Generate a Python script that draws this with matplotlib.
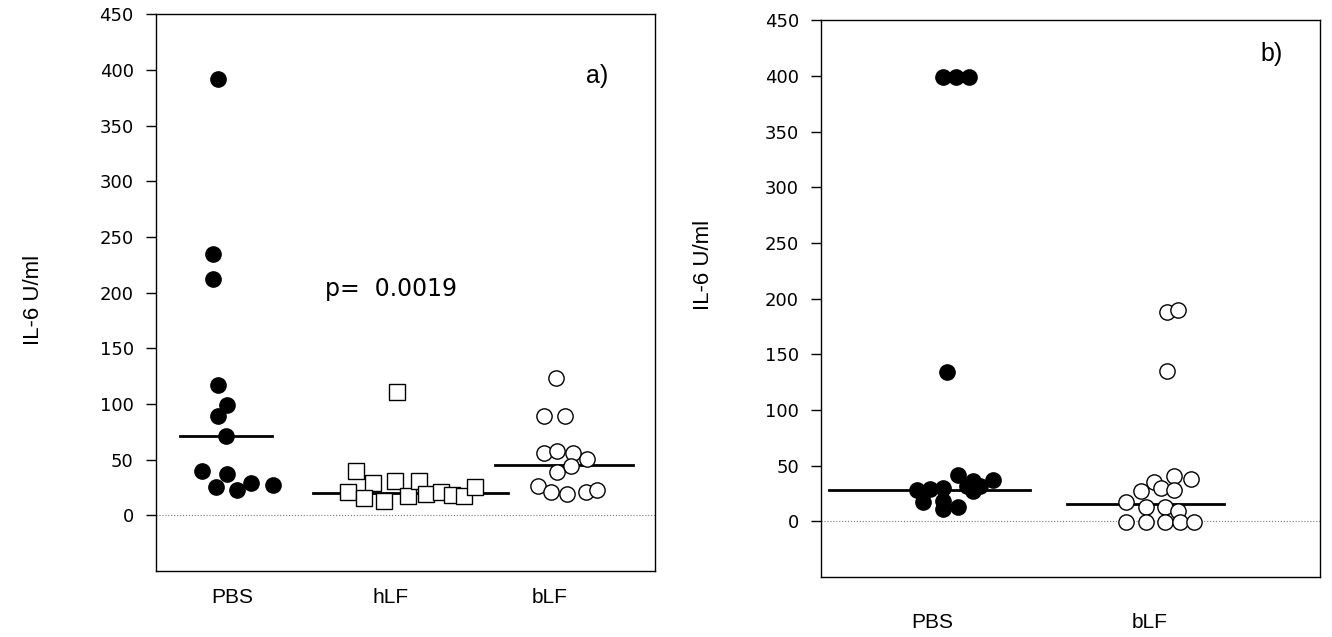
import numpy as np
import matplotlib.pyplot as plt

plt.rcParams['font.family'] = ['Liberation Sans', 'DejaVu Sans']

# ---- panel a) ----
cats_a = ['PBS', 'hLF', 'bLF']
pbs_a = [392, 235, 212, 117, 99, 89, 71, 40, 37, 25, 23, 29, 27]
pbs_a_x = [0.91, 0.88, 0.88, 0.91, 0.97, 0.91, 0.96, 0.81, 0.97, 0.90, 1.03, 1.12, 1.26]
hlf_a = [111, 40, 21, 29, 15.5, 13, 31, 17, 31, 19, 21, 18.5, 17, 25]
hlf_a_x = [2.04, 1.78, 1.73, 1.89, 1.83, 1.96, 2.03, 2.11, 2.18, 2.22, 2.32, 2.39, 2.46, 2.53]
blf_a = [123, 89, 89, 56, 58, 56, 51, 44, 39, 26, 21, 19, 21, 23]
blf_a_x = [3.04, 2.97, 3.10, 2.97, 3.05, 3.15, 3.24, 3.14, 3.05, 2.93, 3.01, 3.11, 3.23, 3.30]
medians_a = [71, 20, 45]
median_span_a = [(0.67, 1.25), (1.51, 2.74), (2.66, 3.53)]

# ---- panel b) ----
cats_b = ['PBS', 'bLF']
pbs_b = [399, 399, 399, 134, 28, 17, 29, 30, 18, 11, 13, 42, 32, 36, 27, 32, 37]
pbs_b_x = [1.05, 1.11, 1.17, 1.07, 0.93, 0.96, 0.99, 1.05, 1.05, 1.05, 1.12, 1.12,
           1.16, 1.19, 1.19, 1.22, 1.28]
blf_b = [188, 190, 135, 38, 41, 35, 30, 28, 27, 17, 13, 13, 9, -1, -1, -1, -1, -1]
blf_b_x = [2.08, 2.13, 2.08, 2.19, 2.11, 2.02, 2.05, 2.11, 1.96, 1.89, 1.98, 2.07,
           2.13, 1.89, 1.98, 2.07, 2.14, 2.20]
medians_b = [28, 16]
median_span_b = [(0.53, 1.45), (1.62, 2.34)]

yticks = np.arange(0, 451, 50)

fig = plt.figure(figsize=(13.32, 6.37), dpi=100)
ax1 = fig.add_axes([0.1171, 0.1036, 0.3746, 0.874])
ax2 = fig.add_axes([0.6164, 0.0942, 0.3746, 0.874])

ms = 11


def style(ax, cats, xlim, pad, label_xy):
    ax.set_ylim(-50, 450)
    ax.set_xlim(*xlim)
    ax.set_yticks(yticks)
    ax.set_yticklabels([str(v) for v in yticks], fontsize=13, family='DejaVu Sans')
    ax.set_xticks(range(1, len(cats) + 1))
    ax.set_xticklabels(cats, fontsize=15)
    ax.tick_params(axis='y', direction='out', length=7, width=1, pad=9)
    ax.tick_params(axis='x', length=0, pad=pad)
    ax.axhline(0, color='#777777', lw=0.8, ls=':', zorder=1)
    ax.set_ylabel('IL-6 U/ml', fontsize=16)
    ax.yaxis.set_label_coords(*label_xy)
    for s in ax.spines.values():
        s.set_linewidth(1)


# panel a
for (x0, x1), m in zip(median_span_a, medians_a):
    ax1.plot([x0, x1], [m, m], color='black', lw=2, zorder=2)
ax1.plot(pbs_a_x, pbs_a, 'o', ms=ms, mfc='black', mec='black', zorder=3)
ax1.plot(hlf_a_x, hlf_a, 's', ms=ms, mfc='white', mec='black', mew=1, zorder=3)
ax1.plot(blf_a_x, blf_a, 'o', ms=ms, mfc='white', mec='black', mew=1, zorder=3)
ax1.text(2.0, 203, 'p=  0.0019', fontsize=17, ha='center', va='center', family='DejaVu Sans')
ax1.text(3.30, 395, 'a)', fontsize=18, ha='center', va='center')
style(ax1, cats_a, (0.52, 3.667), 12, (-0.225, 0.487))

# panel b
for (x0, x1), m in zip(median_span_b, medians_b):
    ax2.plot([x0, x1], [m, m], color='black', lw=2, zorder=2)
ax2.plot(pbs_b_x, pbs_b, 'o', ms=ms, mfc='black', mec='black', zorder=3)
ax2.plot(blf_b_x, blf_b, 'o', ms=ms, mfc='white', mec='black', mew=1, zorder=3)
ax2.text(2.56, 420, 'b)', fontsize=18, ha='center', va='center')
style(ax2, cats_b, (0.492, 2.78), 26, (-0.215, 0.56))

fig.savefig('out.png', dpi=100)
